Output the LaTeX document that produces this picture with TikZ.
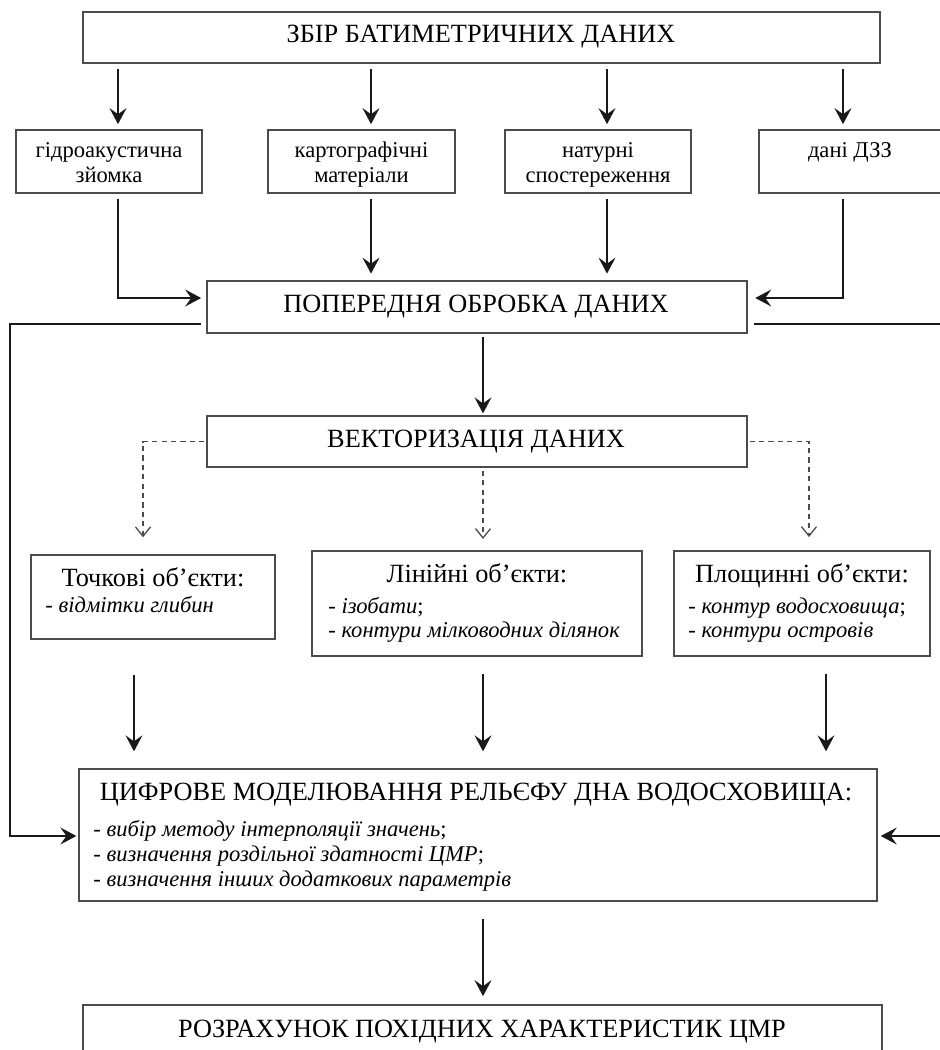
\documentclass[tikz,border=0pt]{standalone}
\usepackage{fontspec}
\setmainfont{Liberation Serif}
\usetikzlibrary{arrows.meta}
\tikzset{
  box/.style={draw=black!70, line width=0.8pt, rectangle, inner sep=0pt},
  sz/.style 2 args={minimum width=#1*0.532pt, minimum height=#2*0.532pt},
  big/.style={font=\fontsize{14}{16}\selectfont, inner sep=0pt, anchor=base},
  small/.style={font=\fontsize{12}{14}\selectfont, inner sep=0pt, anchor=base},
  item/.style={font=\fontsize{12}{14}\selectfont, inner sep=0pt, anchor=base west},
  arr/.style={-{Stealth[length=8.5pt,width=9pt,inset=3.2pt]}, line width=0.85pt, draw=black!90},
  darr/.style={-{Straight Barb[length=5pt,width=8pt]}, line width=0.7pt, draw=black!70, dash pattern=on 2.8pt off 2.2pt},
  gapa/.style={shorten <=2.7pt, shorten >=2.7pt}
}
\begin{document}
\begin{tikzpicture}[x=0.532pt,y=-0.532pt]
\useasboundingbox (0,0) rectangle (939,1050);

% boxes
\node[box, sz={797}{51}] (top) at (481.5,37.5) {};
\node[box, sz={186}{63}] (s1) at (109,161.5) {};
\node[box, sz={187}{63}] (s2) at (361.5,161.5) {};
\node[box, sz={186}{63}] (s3) at (598,161.5) {};
\node[box, sz={182}{63}] (s4) at (850,161.5) {};
\node[box, sz={540}{52}] (prep) at (477,307) {};
\node[box, sz={540}{51}] (vec) at (477,441.5) {};
\node[box, sz={244}{84}] (o1) at (153,597) {};
\node[box, sz={330}{105}] (o2) at (477,603.5) {};
\node[box, sz={256}{105}] (o3) at (802,603.5) {};
\node[box, sz={798}{132}] (model) at (478,835) {};
\node[box, sz={799}{58}] (res) at (482.5,1034) {};

% texts
\node[big] (ttop) at (481,43) {ЗБІР БАТИМЕТРИЧНИХ ДАНИХ};
\node[small] (t1a) at (109,157) {гідроакустична};
\node[small] (t1b) at (109,182) {зйомка};
\node[small] (t2a) at (361.5,157) {картографічні};
\node[small] (t2b) at (361.5,182) {матеріали};
\node[small] (t3a) at (598,157) {натурні};
\node[small] (t3b) at (598,182) {спостереження};
\node[small] (t4a) at (850,157) {дані ДЗЗ};
\node[big] (tprep) at (476,312) {ПОПЕРЕДНЯ ОБРОБКА ДАНИХ};
\node[big] (tvec) at (476,447) {ВЕКТОРИЗАЦІЯ ДАНИХ};
\node[big] (to1) at (153,586) {Точкові об’єкти:};
\node[item] (io1) at (45,612) {- \textit{відмітки глибин}};
\node[big] (to2) at (477,582) {Лінійні об’єкти:};
\node[item] (io2a) at (328,613) {- \textit{ізобати};};
\node[item] (io2b) at (328,637) {- \textit{контури мілководних ділянок}};
\node[big] (to3) at (802,582) {Площинні об’єкти:};
\node[item] (io3a) at (688,613) {- \textit{контур водосховища};};
\node[item] (io3b) at (688,637) {- \textit{контури островів}};
\node[big] (tmodel) at (476,800) {ЦИФРОВЕ МОДЕЛЮВАННЯ РЕЛЬЄФУ ДНА ВОДОСХОВИЩА:};
\node[item] (im1) at (93,836) {- \textit{вибір методу інтерполяції значень};};
\node[item] (im2) at (93,861) {- \textit{визначення роздільної здатності ЦМР};};
\node[item] (im3) at (93,886) {- \textit{визначення інших додаткових параметрів}};
\node[big] (tres) at (482,1037) {РОЗРАХУНОК ПОХІДНИХ ХАРАКТЕРИСТИК ЦМР};

% helper coordinates (columns and rows)
\coordinate (c1) at (118,0);
\coordinate (c2) at (371,0);
\coordinate (c3) at (607,0);
\coordinate (c4) at (843,0);
\coordinate (c5) at (483,0);
\coordinate (cd1) at (143,0);
\coordinate (cd3) at (809,0);
\coordinate (ca1) at (134,0);
\coordinate (ca3) at (826,0);
\coordinate (r1) at (0,298);
\coordinate (r3) at (0,836);
\coordinate (fbL) at (10,324);
\coordinate (fbR) at (942,324);

% top -> sources
\draw[arr, gapa] (top.south -| c1) -- (s1.north -| c1);
\draw[arr, gapa] (top.south -| c2) -- (s2.north -| c2);
\draw[arr, gapa] (top.south -| c3) -- (s3.north -| c3);
\draw[arr, gapa] (top.south -| c4) -- (s4.north -| c4);

% sources -> preprocessing
\draw[arr, gapa] (s1.south -| c1) |- (prep.west |- r1);
\draw[arr, shorten <=2.7pt, shorten >=3.5pt] (s2.south -| c2) -- (prep.north -| c2);
\draw[arr, shorten <=2.7pt, shorten >=3.5pt] (s3.south -| c3) -- (prep.north -| c3);
\draw[arr, shorten <=2.7pt, shorten >=4pt] (s4.south -| c4) |- (prep.east |- r1);

% feedback lines to modelling
\draw[arr, shorten <=2.7pt, shorten >=1pt] (prep.west |- fbL) -- (fbL) |- (model.west |- r3);
\draw[arr, shorten <=3.2pt, shorten >=1.6pt] (prep.east |- fbR) -- (fbR) |- (model.east |- r3);

% preprocessing -> vectorisation
\draw[arr, shorten <=1.6pt, shorten >=1pt] (prep.south -| c5) -- (vec.north -| c5);

% vectorisation -> objects (dashed)
\draw[darr, shorten <=1pt, shorten >=9pt] (vec.west) -| (o1.north -| cd1);
\draw[darr, shorten <=1.6pt, shorten >=6pt] (vec.south -| c5) -- (o2.north -| c5);
\draw[darr, shorten <=1pt, shorten >=7pt] (vec.east) -| (o3.north -| cd3);

% objects -> modelling
\draw[arr, shorten <=19pt, shorten >=9pt] (o1.south -| ca1) -- (model.north -| ca1);
\draw[arr, shorten <=9pt, shorten >=9pt] (o2.south -| c5) -- (model.north -| c5);
\draw[arr, shorten <=9pt, shorten >=9pt] (o3.south -| ca3) -- (model.north -| ca3);

% modelling -> results
\draw[arr, shorten <=9pt, shorten >=4.3pt] (model.south -| c5) -- (res.north -| c5);
\end{tikzpicture}
\end{document}
